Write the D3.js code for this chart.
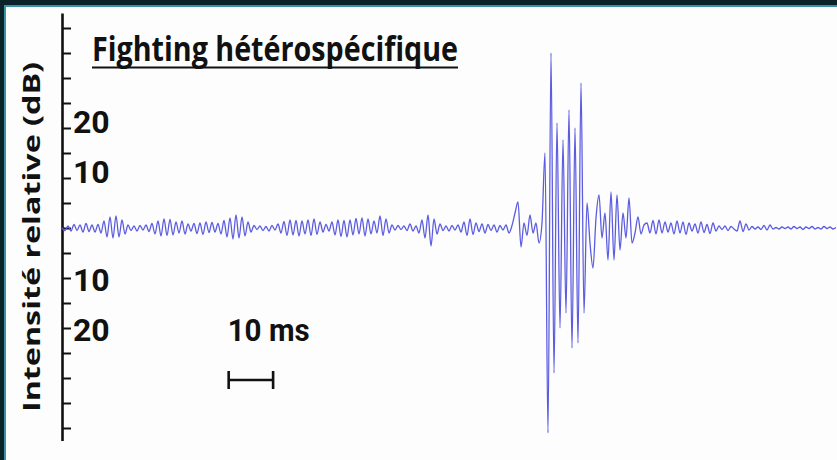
<!DOCTYPE html>
<html>
<head>
<meta charset="utf-8">
<script src="https://cdn.jsdelivr.net/npm/d3@7"></script>
<style>
  html, body { margin: 0; padding: 0; background: #0b2328; }
  svg { display: block; }
</style>
</head>
<body>
<svg id="chart" width="837" height="460"></svg>
<script>
// labels
const title = 'Fighting hétérospécifique';
const yLabel = 'Intensité relative (dB)';
const scaleBarLabel = '10 ms';

// axis ticks (dB), labelled ones and their text (no minus sign below zero)
const tickValues = [-40, -35, -30, -25, -20, -15, -10, -5, 0, 5, 10, 15, 20, 25, 30, 35, 40];
const labelValues = [20, 10, -10, -20];
const labelTexts = ['20', '10', '10', '20'];

// scale bar: start time and length (ms), drawn at this level (dB)
const scaleBar = [37.5, 10];
const scaleBarLevel = -30.4;

// waveform, one value every sampleMs (dB, relative)
const sampleMs = 0.675;
const noise = [
    0, -0.5, 0.4, -0.6, 0.7, -0.5, 0.6, -0.8, 0.9, -0.7,
    0.6, -0.8, 0.7, -1.0, 1.4, -1.8, 2.2, -2.0, 2.4, -1.8,
    1.6, -1.2, 0.6, -0.5, 0.4, -0.6, 0.5, -0.4, 0.6, -0.7,
    0.9, -1.2, 1.4, -1.6, 1.8, -1.5, 1.7, -1.4, 1.2, -1.0,
    1.4, -1.2, 0.8, -0.6, 0.9, -1.1, 1.0, -1.3, 1.2, -0.9,
    1.1, -0.8, 0.9, -1.2, 1.5, -1.8, 2.0, -2.2, 2.6, -2.0,
    2.2, -1.6, 1.2, -0.8, 0.5, -0.3, 0.4, -0.5, 0.3, -0.6,
    0.5, -0.4, 0.8, -1.0, 1.3, -1.5, 1.6, -1.4, 1.5, -1.6,
    1.4, -1.2, 1.6, -1.5, 1.8, -1.3, 1.2, -0.8, 0.7, -0.6,
    1.2, -1.4, 1.6, -1.7, 1.5, -1.8, 1.6, -1.4, 1.9, -1.2,
    2.0, -1.6, 1.8, -1.2, 1.4, -1.0, 2.4, -1.5, 1.8, -1.0,
    0.6, -0.4, 0.5, -0.3, 0.4, -0.5, 0.8, -0.6, 0.4, -1.0,
    1.6, -2.0, 2.6, -3.6, 1.8, -1.2, 0.8, -0.5, 0.4, -0.6,
    0.5, -0.4, 0.6, -0.8, 1.2, -1.5, 1.8, -1.3, 1.0, -0.7,
    0.8, -1.0, 0.7, -0.5, 0.6, -0.8, 0.5, -0.4, 0.6, -1.0
];
const burst = [
    0.5, 3.0, 5.2, -3.8, 1.0, -1.5, 2.6, -1.0, 1.0, -3.0,
    1.0, 15, -41, 35, -29, 21, -20, 17.6, -17, 23.6,
    -24, 20, -23, 29, -17, 5
];
const decay = [
    -3, -8, 2, 6.6, -2, 3, -6.4, 7.2, -6.4, 6.6,
    -4.4, 3, -2, 6, -3, -1, 2.2, -1.2, 0.6, 1.0
];
const tail = [
    -1.0, 1.5, -1.2, 1.6, -1.0, 1.2, -0.8, 1.0, -1.2, 1.4,
    -1.0, 1.2, -1.3, 1.0, -0.6, 0.8, -1.0, 1.2, -0.9, 0.7,
    -1.1, 1.0, -0.6, 0.4, -0.3, 0.4, -0.5, 0.3, -0.2, -0.6,
    1.4, -0.7, 0.8, -0.4, 0.3, -0.2, 0.2, -0.3, 0.5, -0.4,
    0.6, -0.2, 0.1, -0.2, 0.2, -0.1, 0.2, -0.2, 0.3, -0.1,
    0.2, -0.3, 0.2, -0.1, 0.3, -0.2, 0.1, -0.2, 0.3, -0.1,
    0.2, -0.2, 0.1
];

const signal = noise.concat(burst, decay, tail).map((v, i) => ({ t: i * sampleMs, v: v }));

const width = 837;
const height = 460;
const svg = d3.select('#chart');

// dark frame + white panel
svg.append('rect').attr('width', width).attr('height', height).attr('fill', '#0b2328');
svg.append('rect')
    .attr('x', 5).attr('y', 6).attr('width', width).attr('height', height)
    .attr('fill', '#fdfdfd').attr('stroke', '#3b92a3').attr('stroke-width', 2);

const x = d3.scaleLinear()
    .domain([0, (signal.length - 1) * sampleMs])
    .range([62, 836]);
const y = d3.scaleLinear()
    .domain([43, -42.5])
    .range([13, 440.5]);

// y axis, ticks pointing right
const axis = svg.append('g')
    .attr('transform', 'translate(' + x(0) + ',0)')
    .call(d3.axisRight(y).tickValues(tickValues).tickSize(9).tickSizeOuter(0).tickFormat(''));
axis.select('.domain').attr('stroke', '#111').attr('stroke-width', 2.6);
axis.selectAll('.tick line').attr('stroke', '#111').attr('stroke-width', 2);

svg.append('g').selectAll('text')
    .data(labelValues)
    .enter().append('text')
        .attr('x', 73)
        .attr('y', (d) => y(d) + (d > 0 ? -6 : 2))
        .attr('dominant-baseline', 'central')
        .attr('font-family', 'Roboto, sans-serif')
        .attr('font-weight', 700)
        .attr('font-size', 32)
        .attr('fill', '#111')
        .text((d, i) => labelTexts[i]);

// axis title
svg.append('text')
    .attr('transform', 'translate(40,237) rotate(-90)')
    .attr('text-anchor', 'middle')
    .attr('font-family', '"Open Sans", sans-serif')
    .attr('font-weight', 700)
    .attr('font-size', 23)
    .attr('textLength', 350)
    .attr('lengthAdjust', 'spacingAndGlyphs')
    .attr('fill', '#111')
    .text(yLabel);

// chart title, underlined
svg.append('text')
    .attr('x', 92).attr('y', 61)
    .attr('font-family', '"Open Sans", sans-serif')
    .attr('font-weight', 700)
    .attr('font-size', 34)
    .attr('textLength', 366)
    .attr('lengthAdjust', 'spacingAndGlyphs')
    .attr('fill', '#111')
    .text(title);
svg.append('line')
    .attr('x1', 92).attr('x2', 458).attr('y1', 67.5).attr('y2', 67.5)
    .attr('stroke', '#111').attr('stroke-width', 2.2);

// waveform
const wave = d3.line()
    .x((d) => x(d.t))
    .y((d) => y(d.v))
    .curve(d3.curveMonotoneX);

svg.append('path')
    .datum(signal)
    .attr('d', wave)
    .attr('fill', 'none')
    .attr('stroke', '#5c5ce0')
    .attr('stroke-width', 1.3)
    .attr('stroke-linejoin', 'round');

// time scale bar
const x0 = x(scaleBar[0]);
const x1 = x(scaleBar[0] + scaleBar[1]);
const yb = y(scaleBarLevel);
const bar = svg.append('g').attr('stroke', '#111').attr('stroke-width', 2.6);
bar.append('line').attr('x1', x0).attr('x2', x1).attr('y1', yb).attr('y2', yb);
bar.append('line').attr('x1', x0).attr('x2', x0).attr('y1', yb - 9).attr('y2', yb + 9);
bar.append('line').attr('x1', x1).attr('x2', x1).attr('y1', yb - 9).attr('y2', yb + 9);

svg.append('text')
    .attr('x', x0 - 1).attr('y', 341)
    .attr('font-family', 'Roboto, sans-serif')
    .attr('font-weight', 700)
    .attr('font-size', 32)
    .attr('textLength', 82)
    .attr('lengthAdjust', 'spacingAndGlyphs')
    .attr('fill', '#111')
    .text(scaleBarLabel);
</script>
</body>
</html>
